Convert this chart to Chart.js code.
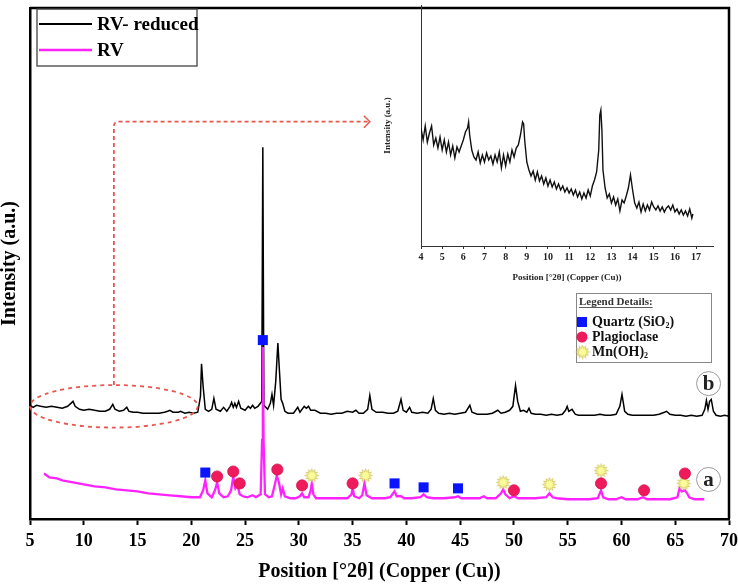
<!DOCTYPE html>
<html>
<head>
<meta charset="utf-8">
<script src="https://cdn.jsdelivr.net/npm/chart.js@4.4.1/dist/chart.umd.min.js"></script>
<style>
  body { margin: 0; background: #fff; }
  #wrap { position: relative; width: 738px; height: 586px; background: #fff; }
  #wrap canvas { position: absolute; top: 0; }
</style>
</head>
<body>
<div id="wrap">
  <canvas id="main" width="738" height="586" style="left:0"></canvas>
  <canvas id="inset" width="360" height="292" style="left:370px"></canvas>
</div>
<script>
// RV- reduced pattern (2theta, intensity a.u.)
const rvReduced = [
  [5.0,115],[5.3,113],[5.6,115],[6.0,114],[6.5,113],[7.0,114],[7.5,113],[8.0,112],[8.5,114],[8.8,117],
  [9.0,119],[9.2,114],[9.6,111],[10.0,110],[10.5,111],[11.0,110],[11.5,109],[12.0,109],[12.4,111],[12.7,116],
  [12.9,111],[13.3,109],[13.7,110],[14.0,113],[14.2,109],[14.6,108],[15.0,108],[15.5,107],[16.0,107],[16.5,107],
  [17.0,107],[17.5,108],[17.8,109],[18.0,110],[18.3,108],[18.8,108],[19.0,109],[19.4,107],[19.8,108],[20.2,107],
  [20.6,108],[20.85,124],[20.95,157],[21.1,134],[21.3,111],[21.6,109],[21.9,111],[22.1,122],[22.3,111],[22.7,109],
  [23.0,113],[23.3,109],[23.6,114],[23.75,118],[23.9,113],[24.05,117],[24.2,113],[24.4,119],[24.6,112],[25.0,110],
  [25.3,114],[25.5,112],[25.7,115],[25.9,112],[26.2,114],[26.55,119],[26.65,376],[26.75,115],
  [27.1,111],[27.35,117],[27.5,126],[27.65,115],[27.85,139],[28.05,178],[28.2,149],[28.35,121],[28.5,117],[28.7,109],
  [29.0,107],[29.5,107],[29.9,113],[30.1,108],[30.5,114],[30.7,112],[30.9,114],[31.1,110],[31.5,110],[32.0,107],
  [32.5,107],[33.0,106],[33.5,107],[34.0,107],[34.5,109],[35.0,108],[35.3,110],[35.6,107],[36.0,107],[36.4,111],
  [36.6,125],[36.8,111],[37.2,108],[37.8,108],[38.3,107],[38.8,107],[39.2,109],[39.5,121],[39.7,110],[40.0,108],
  [40.3,113],[40.5,108],[41.0,107],[41.5,108],[42.0,107],[42.3,111],[42.5,122],[42.7,110],[43.0,107],[43.5,106],
  [44.0,107],[44.5,106],[45.0,107],[45.5,108],[45.9,115],[46.1,108],[46.6,106],[47.0,106],[47.5,106],[48.0,107],
  [48.5,110],[48.8,107],[49.2,108],[49.6,110],[49.9,114],[50.15,135],[50.35,119],[50.6,109],[50.9,110],[51.2,108],
  [51.4,112],[51.6,107],[52.0,106],[52.5,106],[53.0,105],[53.5,106],[54.0,105],[54.5,106],[54.8,110],[54.95,114],
  [55.1,109],[55.4,111],[55.7,106],[56.0,105],[56.5,105],[57.0,105],[57.5,105],[58.0,106],[58.5,105],[59.0,105],
  [59.5,106],[59.85,114],[60.05,126],[60.3,109],[60.6,106],[61.0,105],[61.5,105],[62.0,105],[62.5,105],[63.0,105],
  [63.5,106],[64.0,108],[64.2,109],[64.5,106],[65.0,105],[65.5,105],[66.0,104],[66.5,105],[67.0,104],[67.5,105],
  [67.75,111],[67.9,120],[68.05,111],[68.2,119],[68.35,121],[68.55,109],[68.8,105],[69.2,104],[69.6,105],[70.0,104]
];

// RV pattern
const rv = [
  [6.3,46],[6.8,42],[7.5,41],[8.0,39],[8.5,38],[9.0,37],[10.0,35],[11.0,33],[12.0,32],[13.0,30],
  [14.0,29],[15.0,28],[16.0,26],[17.0,25],[18.0,24],[19.0,23],[20.0,22],[20.8,22],[21.1,29],[21.3,39],
  [21.5,26],[21.9,22],[22.2,29],[22.4,37],[22.6,26],[23.0,22],[23.4,23],[23.7,29],[23.9,43],[24.1,31],
  [24.3,34],[24.5,25],[24.8,23],[25.2,22],[25.7,24],[26.0,22],[26.45,25],[26.58,80],[26.65,174],[26.72,80],
  [26.85,25],[27.2,22],[27.5,23],[27.75,34],[27.95,44],[28.15,37],[28.35,25],[28.5,31],[28.7,23],[29.2,21],
  [29.7,21],[30.1,23],[30.3,26],[30.5,22],[30.9,22],[31.1,29],[31.2,36],[31.35,25],[31.6,21],[32.5,21],
  [33.5,21],[34.5,21],[34.9,25],[35.0,31],[35.15,23],[35.6,21],[35.9,24],[36.1,36],[36.3,24],[36.8,21],
  [37.5,21],[38.0,21],[38.5,22],[38.9,28],[39.1,23],[39.5,23],[39.8,21],[40.5,21],[41.3,22],[41.6,25],
  [41.9,22],[42.5,21],[43.5,21],[44.5,22],[44.8,23],[45.1,21],[46.0,21],[46.8,21],[47.2,23],[47.5,21],
  [48.3,21],[48.8,26],[49.0,30],[49.2,25],[49.6,21],[50.0,23],[50.4,21],[51.0,21],[52.0,21],[53.0,22],
  [53.3,26],[53.6,22],[54.0,21],[55.0,20],[56.0,20],[57.0,20],[57.8,21],[58.1,29],[58.3,22],[58.8,20],
  [59.5,20],[60.0,22],[60.4,20],[61.5,20],[62.0,22],[62.4,20],[63.5,20],[64.5,20],[65.2,22],[65.4,31],
  [65.6,28],[65.9,29],[66.1,26],[66.3,22],[66.8,20],[67.3,20],[67.7,20]
];

// phase markers
const quartz = [[21.3,47],[26.65,181],[38.9,36],[41.6,32],[44.8,31]];
const plagioclase = [[22.4,43],[23.9,48],[24.5,36],[28.0,50],[30.3,34],[35.0,36],[50.0,29],[58.1,36],[62.1,29],[65.9,46]];
const mnoh2 = [[31.2,44],[36.2,44],[49.0,37],[53.3,35],[58.1,49],[65.8,36]];

// inset: low-angle zoom of RV- reduced
const insetPattern = [
  [4.0,118],[4.1,106],[4.2,120],[4.3,104],[4.4,113],[4.5,120],[4.6,101],[4.7,108],[4.8,98],[4.9,109],
  [5.0,96],[5.1,106],[5.2,94],[5.3,104],[5.4,91],[5.5,100],[5.6,88],[5.7,99],[5.8,94],[5.9,100],
  [6.0,106],[6.1,114],[6.2,118],[6.25,124],[6.3,111],[6.4,96],[6.5,89],[6.6,86],[6.7,94],[6.8,83],
  [6.9,91],[7.0,84],[7.1,93],[7.2,86],[7.3,90],[7.4,82],[7.5,91],[7.6,84],[7.7,94],[7.8,78],
  [7.9,91],[8.0,80],[8.1,92],[8.2,84],[8.3,96],[8.4,89],[8.5,98],[8.6,101],[8.7,111],[8.8,124],
  [8.85,122],[8.9,106],[9.0,84],[9.1,76],[9.2,70],[9.3,75],[9.4,66],[9.5,74],[9.6,65],[9.7,70],
  [9.8,62],[9.9,68],[10.0,60],[10.1,66],[10.2,59],[10.3,64],[10.4,57],[10.5,62],[10.6,56],[10.7,60],
  [10.8,54],[10.9,58],[11.0,53],[11.1,57],[11.2,51],[11.3,56],[11.4,49],[11.5,54],[11.6,47],[11.7,53],
  [11.8,48],[11.9,56],[12.0,50],[12.1,60],[12.2,66],[12.3,74],[12.4,96],[12.45,131],[12.5,136],[12.55,116],
  [12.6,76],[12.7,58],[12.8,48],[12.9,52],[13.0,43],[13.1,49],[13.2,41],[13.3,47],[13.4,35],[13.5,46],
  [13.6,43],[13.7,50],[13.8,58],[13.9,71],[14.0,56],[14.1,43],[14.2,38],[14.3,44],[14.4,34],[14.5,42],
  [14.6,35],[14.7,41],[14.8,36],[14.9,44],[15.0,39],[15.1,36],[15.2,40],[15.3,35],[15.4,39],[15.5,34],
  [15.6,38],[15.7,40],[15.8,36],[15.9,41],[16.0,34],[16.1,37],[16.2,32],[16.3,36],[16.4,31],[16.5,35],
  [16.6,30],[16.7,37],[16.8,28],[16.85,32]
];
const insetTicks = [4,5,6,7,8,9,10,11,12,13,14,15,16,17];

const serif = "'Liberation Serif', 'Times New Roman', serif";
const toXY = arr => arr.map(p => ({x: p[0], y: p[1]}));

// yellow sunburst marker
function makeStar() {
  const c = document.createElement('canvas');
  c.width = 15; c.height = 15;
  const g = c.getContext('2d');
  g.beginPath();
  for (let i = 0; i < 24; i++) {
    const r = i % 2 === 0 ? 6.8 : 3.8;
    const a = i * Math.PI / 12 - Math.PI / 2;
    const px = 7.5 + r * Math.cos(a), py = 7.5 + r * Math.sin(a);
    if (i === 0) g.moveTo(px, py); else g.lineTo(px, py);
  }
  g.closePath();
  g.fillStyle = '#fbfb9a';
  g.fill();
  g.strokeStyle = '#c9bb4a';
  g.lineWidth = 0.7;
  g.stroke();
  return c;
}
const starImg = makeStar();

// legends, zoom marker and sample labels
const extras = {
  id: 'extras',
  afterDraw(chart) {
    const ctx = chart.ctx;
    const xs = chart.scales.x, ys = chart.scales.y;
    const a = chart.chartArea;
    ctx.save();

    // top and right frame
    ctx.strokeStyle = '#000';
    ctx.lineWidth = 2.5;
    ctx.beginPath();
    ctx.moveTo(a.left, a.top); ctx.lineTo(a.right, a.top); ctx.lineTo(a.right, a.bottom);
    ctx.stroke();

    // series legend
    ctx.strokeStyle = '#444';
    ctx.lineWidth = 1.3;
    ctx.strokeRect(37, 9, 160, 57);
    const ds = chart.data.datasets;
    const rows = [ds[1], ds[0]];
    ctx.font = 'bold 19px ' + serif;
    ctx.textBaseline = 'middle';
    ctx.fillStyle = '#000';
    rows.forEach((d, i) => {
      const y = 24 + i * 26;
      ctx.strokeStyle = d.borderColor;
      ctx.lineWidth = i === 0 ? 2 : 2.5;
      ctx.beginPath(); ctx.moveTo(39, y); ctx.lineTo(92, y); ctx.stroke();
      ctx.fillText(d.label, 97, y + 1);
    });

    // phase legend
    ctx.strokeStyle = '#888';
    ctx.lineWidth = 1;
    ctx.strokeRect(576.5, 293.5, 135, 69);
    ctx.font = 'bold 11px ' + serif;
    ctx.fillStyle = '#333';
    ctx.fillText('Legend Details:', 579, 302);
    const tw = ctx.measureText('Legend Details:').width;
    ctx.strokeStyle = '#333';
    ctx.lineWidth = 0.8;
    ctx.beginPath(); ctx.moveTo(579, 307.5); ctx.lineTo(579 + tw, 307.5); ctx.stroke();

    const phaseRows = [
      {y: 322, text: 'Quartz (SiO', sub: '2', tail: ')', kind: 'rect'},
      {y: 337, text: 'Plagioclase', sub: '', tail: '', kind: 'circle'},
      {y: 352, text: 'Mn(OH)', sub: '2', tail: '', kind: 'star'}
    ];
    phaseRows.forEach(r => {
      if (r.kind === 'rect') {
        ctx.fillStyle = '#0a14ff';
        ctx.fillRect(577, r.y - 5, 10, 10);
      } else if (r.kind === 'circle') {
        ctx.fillStyle = '#ef1a5c';
        ctx.beginPath(); ctx.arc(582, r.y, 5.5, 0, Math.PI * 2); ctx.fill();
      } else {
        ctx.drawImage(starImg, 575, r.y - 7.5);
      }
      ctx.fillStyle = '#111';
      ctx.font = 'bold 14px ' + serif;
      ctx.fillText(r.text, 592, r.y);
      let x = 592 + ctx.measureText(r.text).width;
      if (r.sub) {
        ctx.font = 'bold 8px ' + serif;
        ctx.fillText(r.sub, x, r.y + 4);
        x += ctx.measureText(r.sub).width;
      }
      if (r.tail) {
        ctx.font = 'bold 14px ' + serif;
        ctx.fillText(r.tail, x, r.y);
      }
    });

    // dashed ellipse + arrow towards the inset
    const red = '#e8574e';
    ctx.strokeStyle = red;
    ctx.lineWidth = 1.8;
    ctx.setLineDash([4, 4]);
    const cx = xs.getPixelForValue(12.8), cy = ys.getPixelForValue(114);
    const rx = xs.getPixelForValue(12.8 + 7.8) - cx, ry = cy - ys.getPixelForValue(135.5);
    ctx.beginPath(); ctx.ellipse(cx, cy, rx, ry, 0, 0, Math.PI * 2); ctx.stroke();

    const topY = ys.getPixelForValue(402);
    const endX = xs.getPixelForValue(36.6);
    ctx.setLineDash([4, 3]);
    ctx.beginPath();
    ctx.moveTo(cx, cy - ry);
    ctx.lineTo(cx, topY + 5);
    ctx.quadraticCurveTo(cx, topY, cx + 5, topY);
    ctx.lineTo(endX, topY);
    ctx.stroke();
    ctx.setLineDash([]);
    ctx.lineWidth = 1.5;
    ctx.beginPath();
    ctx.moveTo(endX - 6, topY - 6); ctx.lineTo(endX, topY); ctx.lineTo(endX - 6, topY + 6);
    ctx.stroke();

    // sample labels
    [['b', 137], ['a', 40]].forEach(([t, v]) => {
      const px = xs.getPixelForValue(68.1), py = ys.getPixelForValue(v);
      ctx.strokeStyle = '#999';
      ctx.lineWidth = 1;
      ctx.beginPath(); ctx.arc(px, py, 12, 0, Math.PI * 2); ctx.stroke();
      ctx.fillStyle = '#222';
      ctx.font = 'bold 21px ' + serif;
      ctx.textAlign = 'center';
      ctx.fillText(t, px, py + 1);
      ctx.textAlign = 'left';
    });
    ctx.restore();
  }
};

new Chart(document.getElementById('main'), {
  type: 'scatter',
  data: {
    datasets: [
      {label: 'RV', data: toXY(rv), showLine: true, pointRadius: 0, borderColor: '#ff22ff', borderWidth: 2.3, tension: 0, order: 2},
      {label: 'RV- reduced', data: toXY(rvReduced), showLine: true, pointRadius: 0, borderColor: '#000', borderWidth: 1.5, tension: 0, order: 3},
      {label: 'Quartz (SiO2)', data: toXY(quartz), pointStyle: 'rect', pointRadius: 7.1, backgroundColor: '#0a14ff', borderColor: '#0a14ff', borderWidth: 0, order: 0},
      {label: 'Plagioclase', data: toXY(plagioclase), pointStyle: 'circle', pointRadius: 5.6, backgroundColor: '#ef1a5c', borderColor: '#d4124c', borderWidth: 0.8, order: 0},
      {label: 'Mn(OH)2', data: toXY(mnoh2), pointStyle: starImg, pointRadius: 7, order: 0}
    ]
  },
  options: {
    responsive: false,
    animation: false,
    layout: {padding: {top: 2, right: 9, left: 0, bottom: 0}},
    plugins: {legend: {display: false}, tooltip: {enabled: false}},
    scales: {
      x: {
        type: 'linear', min: 5, max: 70,
        border: {display: true, color: '#000', width: 2.5},
        grid: {display: true, drawOnChartArea: false, tickLength: 6, tickColor: '#000', tickWidth: 2},
        ticks: {stepSize: 5, color: '#000', padding: 6, maxRotation: 0, font: {family: serif, size: 18, weight: 'bold'}},
        title: {display: true, text: 'Position [°2θ] (Copper (Cu))', color: '#000', padding: {top: 0, bottom: 2},
                font: {family: serif, size: 20, weight: 'bold', lineHeight: 1.2}},
        afterFit: s => { s.height = 67; s.paddingLeft = 0; s.paddingRight = 0; }
      },
      y: {
        min: 0, max: 517,
        border: {display: true, color: '#000', width: 2.5},
        grid: {display: false},
        ticks: {display: false},
        title: {display: true, text: 'Intensity (a.u.)', color: '#000', padding: {top: 0, bottom: 0},
                font: {family: serif, size: 20, weight: 'bold', lineHeight: 1.0}},
        afterFit: s => { s.width = 30; }
      }
    }
  },
  plugins: [extras]
});

new Chart(document.getElementById('inset'), {
  type: 'scatter',
  data: {
    datasets: [
      {label: 'RV- reduced (4-17°)', data: toXY(insetPattern), showLine: true, pointRadius: 0, borderColor: '#111', borderWidth: 1.4, tension: 0}
    ]
  },
  options: {
    responsive: false,
    animation: false,
    layout: {padding: {top: 5, right: 17, left: 0, bottom: 0}},
    plugins: {legend: {display: false}, tooltip: {enabled: false}},
    scales: {
      x: {
        type: 'linear', min: 4, max: 17.8,
        border: {display: true, color: '#333', width: 1},
        grid: {display: true, drawOnChartArea: false, tickLength: 3, tickColor: '#333', tickWidth: 1},
        ticks: {color: '#222', padding: 2, maxRotation: 0, autoSkip: false, font: {family: serif, size: 10, weight: 'bold'}},
        afterBuildTicks: s => { s.ticks = insetTicks.map(v => ({value: v})); },
        title: {display: true, text: 'Position [°2θ] (Copper (Cu))', color: '#222', padding: {top: 0, bottom: 9},
                font: {family: serif, size: 9, weight: 'bold', lineHeight: 1.2}},
        afterFit: s => { s.height = 46; s.paddingLeft = 0; s.paddingRight = 0; }
      },
      y: {
        min: 0, max: 241,
        border: {display: true, color: '#333', width: 1},
        grid: {display: false},
        ticks: {display: false},
        title: {display: true, text: 'Intensity (a.u.)', color: '#222', padding: {top: 12, bottom: 0},
                font: {family: serif, size: 9, weight: 'bold', lineHeight: 1.2}},
        afterFit: s => { s.width = 51; }
      }
    }
  }
});
</script>
</body>
</html>
